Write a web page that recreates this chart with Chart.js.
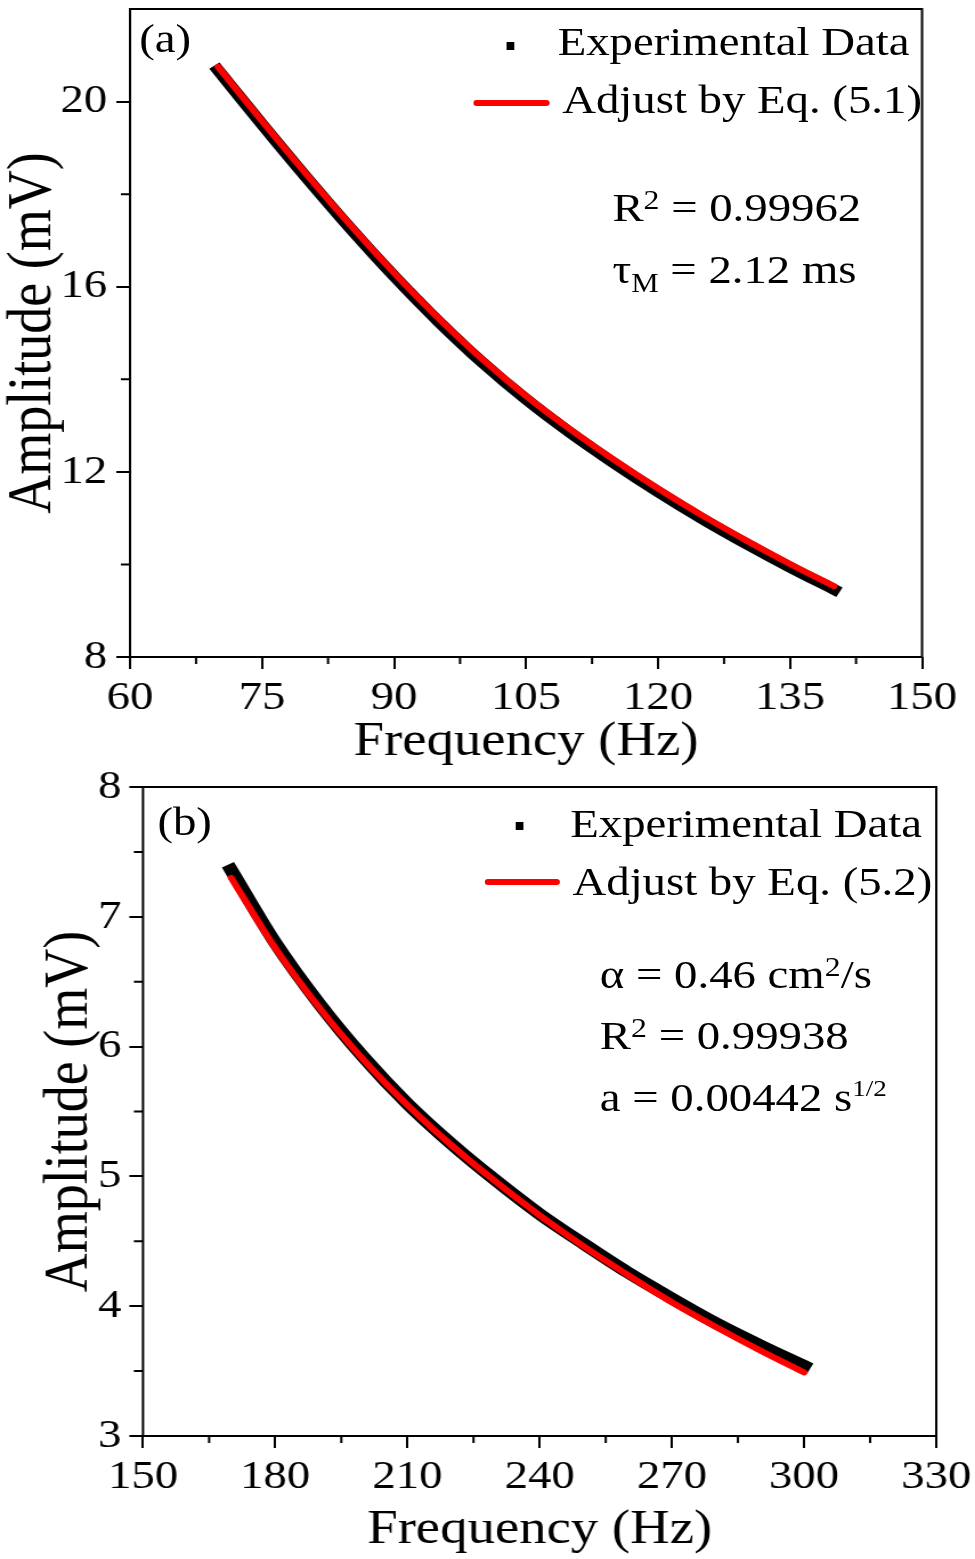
<!DOCTYPE html>
<html>
<head>
<meta charset="utf-8">
<script src="https://cdn.jsdelivr.net/npm/chart.js@4.4.1/dist/chart.umd.min.js"></script>
<style>
  html, body { margin: 0; padding: 0; background: #fff; }
  body { width: 975px; height: 1559px; overflow: hidden; position: relative; }
  /* the source figure is stretched horizontally, so the whole stage is too */
  #stage { position: absolute; left: 0; top: 0; width: 855px; height: 1559px;
           transform: scaleX(1.1404); transform-origin: 0 0;
           font-family: 'Liberation Serif', 'Times New Roman', serif; color: #000; }
  canvas { position: absolute; left: 0; }
  #chartA { top: 0; }
  #chartB { top: 760px; }
  .txt { position: absolute; font-size: 41px; line-height: 41px; white-space: nowrap; }
  .sq { position: absolute; width: 7px; height: 8px; background: #000; }
  .fit { position: absolute; height: 6px; border-radius: 3px; background: #ff0000; }
  .up { position: relative; top: -0.42em; font-size: 0.68em; line-height: 0; }
  .up2 { position: relative; top: -0.62em; font-size: 0.58em; line-height: 0; }
  .dn { position: relative; top: 0.32em; font-size: 0.66em; line-height: 0; }
</style>
</head>
<body>
<div id="stage">
  <canvas id="chartA" width="855" height="775"></canvas>
  <canvas id="chartB" width="855" height="799"></canvas>

  <div class="txt" style="left:122px; top:18px;">(a)</div>
  <div class="sq" style="left:444px; top:42px;"></div>
  <div class="txt" style="left:489px; top:21px;">Experimental Data</div>
  <div class="fit" style="left:415px; top:100px; width:67px;"></div>
  <div class="txt" style="left:493px; top:79px;">Adjust by Eq. (5.1)</div>
  <div class="txt" style="left:537px; top:187px;">R<span class="up">2</span> = 0.99962</div>
  <div class="txt" style="left:537px; top:249px;">τ<span class="dn">M</span> = 2.12 ms</div>

  <div class="txt" style="left:138px; top:801px;">(b)</div>
  <div class="sq" style="left:452px; top:822px;"></div>
  <div class="txt" style="left:500px; top:803px;">Experimental Data</div>
  <div class="fit" style="left:425px; top:879px; width:66px;"></div>
  <div class="txt" style="left:502px; top:861px;">Adjust by Eq. (5.2)</div>
  <div class="txt" style="left:526px; top:954px;">α = 0.46 cm<span class="up">2</span>/s</div>
  <div class="txt" style="left:526px; top:1015px;">R<span class="up">2</span> = 0.99938</div>
  <div class="txt" style="left:526px; top:1077px;">a = 0.00442 s<span class="up2">1/2</span></div>
</div>

<script>
// panel (a)
const freqA = [70, 75, 80, 85, 90, 95, 100, 105, 110, 115, 120, 125, 130, 135, 140];
const expA = [20.68, 19.51, 18.37, 17.27, 16.23, 15.26, 14.37, 13.57, 12.85, 12.19, 11.57, 10.99, 10.45, 9.94, 9.46];
const fitA = [20.75, 19.58, 18.44, 17.34, 16.30, 15.33, 14.44, 13.64, 12.92, 12.26, 11.64, 11.06, 10.52, 10.01, 9.53];
const xTicksA = [60, 75, 90, 105, 120, 135, 150];
const xMinorA = [67.5, 82.5, 97.5, 112.5, 127.5, 142.5];
const yTicksA = [8, 12, 16, 20];
const yMinorA = [10, 14, 18];

// panel (b)
const freqB = [170, 180, 190, 200, 210, 220, 230, 240, 250, 260, 270, 280, 290, 300];
const expB = [7.36, 6.80, 6.33, 5.92, 5.56, 5.25, 4.97, 4.71, 4.48, 4.26, 4.06, 3.87, 3.70, 3.54];
const fitB = [7.30, 6.76, 6.30, 5.90, 5.55, 5.24, 4.96, 4.70, 4.46, 4.24, 4.03, 3.84, 3.66, 3.49];
const xTicksB = [150, 180, 210, 240, 270, 300, 330];
const xMinorB = [165, 195, 225, 255, 285, 315];
const yTicksB = [3, 4, 5, 6, 7, 8];
const yMinorB = [3.5, 4.5, 5.5, 6.5, 7.5];

Chart.defaults.font.family = "'Liberation Serif', 'Times New Roman', serif";
Chart.defaults.color = '#000';

const toXY = (xs, ys) => xs.map((x, i) => ({ x: x, y: ys[i] }));

// box round the plot area plus the short minor ticks
const framePlugin = {
    id: 'frame',
    afterDraw(chart, args, opts) {
        const { ctx, chartArea: a, scales } = chart;
        ctx.save();
        ctx.strokeStyle = '#000';
        ctx.lineWidth = 2;
        ctx.strokeRect(a.left, a.top, a.right - a.left, a.bottom - a.top);
        ctx.beginPath();
        opts.xMinor.forEach(v => {
            const px = scales.x.getPixelForValue(v);
            ctx.moveTo(px, a.bottom);
            ctx.lineTo(px, a.bottom + 7);
        });
        opts.yMinor.forEach(v => {
            const py = scales.y.getPixelForValue(v);
            ctx.moveTo(a.left, py);
            ctx.lineTo(a.left - 8, py);
        });
        ctx.stroke();
        ctx.restore();
    }
};

function makeChart(id, p) {
    const tickGrid = { display: true, drawOnChartArea: false, drawTicks: true,
                       tickLength: 12, tickColor: '#000', lineWidth: 2, tickWidth: 2 };
    return new Chart(document.getElementById(id), {
        type: 'line',
        data: {
            datasets: [{
                label: 'Experimental Data',
                data: toXY(p.freq, p.exp),
                borderColor: '#000',
                borderWidth: p.expWidth,
                borderCapStyle: 'square',
                pointRadius: 0,
                cubicInterpolationMode: 'monotone',
                order: 2
            }, {
                label: p.fitLabel,
                data: toXY(p.freq, p.fit),
                borderColor: '#ff0000',
                borderWidth: 6,
                borderCapStyle: 'round',
                pointRadius: 0,
                cubicInterpolationMode: 'monotone',
                order: 1
            }]
        },
        options: {
            responsive: false,
            animation: false,
            devicePixelRatio: 1,
            layout: { padding: p.pad },
            plugins: {
                legend: { display: false },
                tooltip: { enabled: false },
                frame: { xMinor: p.xMinor, yMinor: p.yMinor }
            },
            scales: {
                x: {
                    type: 'linear',
                    min: p.xTicks[0],
                    max: p.xTicks[p.xTicks.length - 1],
                    afterBuildTicks: s => { s.ticks = p.xTicks.map(v => ({ value: v })); },
                    afterFit: s => { s.height = p.xAxisH; s.paddingLeft = 0; s.paddingRight = 0; },
                    grid: tickGrid,
                    border: { display: false },
                    ticks: { font: { size: 41 }, padding: 5, maxRotation: 0, autoSkip: false },
                    title: { display: true, text: 'Frequency (Hz)', font: { size: 48 },
                             padding: { top: 0, bottom: p.xTitlePad } }
                },
                y: {
                    type: 'linear',
                    min: p.yMin,
                    max: p.yMax,
                    afterBuildTicks: s => { s.ticks = p.yTicks.map(v => ({ value: v })); },
                    afterFit: s => { s.width = p.yAxisW; s.paddingTop = 0; s.paddingBottom = 0; },
                    grid: tickGrid,
                    border: { display: false },
                    ticks: { font: { size: 41 }, padding: p.yTickPad, autoSkip: false },
                    title: { display: true, text: 'Amplitude (mV)', font: { size: 54, lineHeight: 1.1 },
                             padding: { top: p.yTitlePad, bottom: 0 } }
                }
            }
        },
        plugins: [framePlugin]
    });
}

makeChart('chartA', {
    freq: freqA, exp: expA, fit: fitA, fitLabel: 'Adjust by Eq. (5.1)', expWidth: 11,
    xTicks: xTicksA, xMinor: xMinorA, yTicks: yTicksA, yMinor: yMinorA,
    yMin: 8, yMax: 22,
    pad: { top: 9, right: 46.5, bottom: 0, left: 0 },
    yAxisW: 114, xAxisH: 118, yTickPad: 8, xTitlePad: 4, yTitlePad: 0
});

makeChart('chartB', {
    freq: freqB, exp: expB, fit: fitB, fitLabel: 'Adjust by Eq. (5.2)', expWidth: 12,
    xTicks: xTicksB, xMinor: xMinorB, yTicks: yTicksB, yMinor: yMinorB,
    yMin: 3, yMax: 8,
    pad: { top: 27, right: 34, bottom: 0, left: 0 },
    yAxisW: 125.4, xAxisH: 123, yTickPad: 7, xTitlePad: 0, yTitlePad: 32
});
</script>
</body>
</html>
